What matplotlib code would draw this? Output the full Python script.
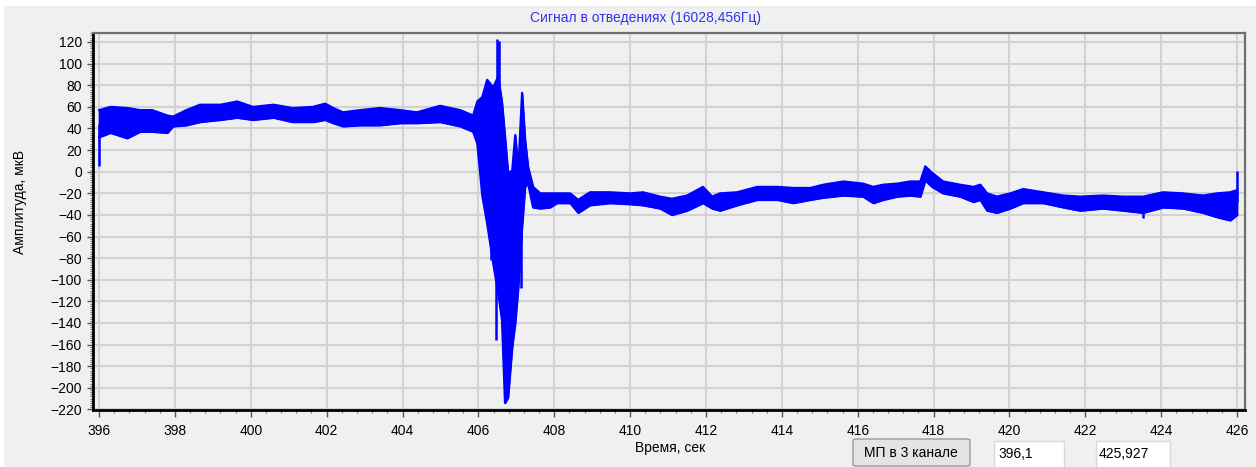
import numpy as np
import matplotlib.pyplot as plt
from matplotlib.patches import Rectangle, FancyBboxPatch
from matplotlib.ticker import MultipleLocator

plt.rcParams['font.family'] = ['Liberation Sans', 'DejaVu Sans']

# время, с
t = [396.0, 396.3, 396.74, 397.08, 397.4, 397.8, 397.95, 398.3, 398.66, 399.2,
     399.64, 400.06, 400.6, 401.1, 401.64, 401.96, 402.17, 402.43, 402.88, 403.4,
     403.94, 404.38, 404.99, 405.52, 405.86, 405.97, 406.1, 406.23, 406.39, 406.52,
     406.62, 406.7, 406.78, 406.89, 406.97, 407.05, 407.15, 407.23, 407.31, 407.44,
     407.63, 407.89, 408.07, 408.42, 408.63, 408.94, 409.47, 410.0, 410.34, 410.79,
     411.1, 411.5, 411.92, 412.16, 412.37, 412.82, 413.35, 413.88, 414.3, 414.75,
     415.09, 415.62, 416.14, 416.41, 416.67, 417.04, 417.38, 417.65, 417.78, 417.96,
     418.25, 418.7, 419.05, 419.23, 419.41, 419.67, 420.02, 420.36, 420.89, 421.42,
     421.86, 422.47, 423.0, 423.52, 424.05, 424.58, 425.1, 425.47, 425.82, 426.0]
# верхняя граница полосы сигнала, мкВ
hi = [57, 60, 59, 57, 57, 52, 51, 57, 62, 62,
      65, 60, 62, 59, 60, 63, 59, 55, 57, 59,
      57, 55, 61, 57, 52, 65, 69, 85, 78, 88,
      64, 32, -1, 1, 34, 1, 73, 29, 4, -14,
      -20, -20, -20, -20, -26, -19, -19, -20, -19, -23,
      -25, -22, -14, -23, -20, -19, -14, -14, -15, -15,
      -12, -9, -11, -14, -12, -11, -9, -9, 5, -1,
      -9, -12, -14, -12, -20, -23, -20, -16, -19, -22,
      -23, -22, -23, -23, -19, -20, -22, -20, -19, -17]
# нижняя граница полосы сигнала, мкВ
lo = [32, 36, 31, 37, 37, 36, 42, 43, 46, 48,
      50, 48, 50, 46, 46, 48, 45, 42, 43, 43,
      45, 45, 46, 42, 37, 26, -22, -48, -85, -112,
      -137, -214, -209, -162, -140, -107, -51, -14, -11, -33,
      -34, -33, -29, -29, -38, -31, -29, -30, -31, -34,
      -40, -36, -29, -34, -36, -31, -26, -26, -29, -26,
      -24, -22, -23, -29, -26, -23, -22, -23, -8, -14,
      -20, -23, -28, -26, -36, -38, -34, -29, -29, -33,
      -36, -34, -36, -38, -33, -34, -38, -42, -45, -40]

# отдельные выбросы
spike_t = [396.0, 406.33, 406.47, 406.5, 406.55, 407.12, 423.52, 426.0]
spike_v = [5, -82, -156, 123, 121, -108, -43, 1]

xticks = list(range(396, 427, 2))
yticks = list(range(-220, 121, 20))

W, H = 1256, 467
fig = plt.figure(figsize=(W / 100, H / 100), dpi=100, facecolor='#f0f0f0')
fig.patches.append(Rectangle((0, 1 - 6 / H), 1, 6 / H, transform=fig.transFigure,
                             facecolor='white', edgecolor='none'))
fig.patches.append(Rectangle((0, 0), 4 / W, 1, transform=fig.transFigure,
                             facecolor='white', edgecolor='none'))

ax = fig.add_axes([93 / W, 57 / H, 1152 / W, 377 / H])
ax.set_facecolor('#f0f0f0')

blue = '#0000ff'
ax.fill_between(t, lo, hi, color=blue, linewidth=1.2, edgecolor=blue, zorder=3)
ax.plot(t, hi, color=blue, linewidth=1.5, zorder=3)
ax.plot(t, lo, color=blue, linewidth=1.5, zorder=3)
mid = (np.array(hi) + np.array(lo)) / 2
base = np.interp(spike_t, t, mid)
ax.vlines(spike_t, base, spike_v, color=blue, linewidth=1.8, zorder=3)

ax.set_xlim(395.84, 426.21)
ax.set_ylim(-220.5, 128.3)
ax.set_xticks(xticks)
ax.set_yticks(yticks)
ax.xaxis.set_minor_locator(MultipleLocator(0.4))
ax.yaxis.set_minor_locator(MultipleLocator(2))
ax.grid(True, which='major', color='#d2d2d2', linewidth=1.5, zorder=0)
ax.set_axisbelow(True)

ax.tick_params(which='major', direction='out', length=4, width=1, color='#555555',
               labelsize=10, pad=4)
ax.tick_params(axis='x', which='major', length=5, pad=5)
ax.tick_params(which='minor', direction='out', length=2, width=0.8, color='#777777')

for side in ['left', 'bottom']:
    ax.spines[side].set_color('black')
    ax.spines[side].set_linewidth(2)
for side in ['top', 'right']:
    ax.spines[side].set_color('#6e6e6e')
    ax.spines[side].set_linewidth(1.6)


def px(x, y):
    return x / W, 1 - y / H


fig.text(*px(645, 18), 'Сигнал в отведениях (16028,456Гц)', color='#3333ee',
         fontsize=10, ha='center', va='center')
fig.text(*px(20, 202), 'Амплитуда, мкВ', rotation=90, fontsize=10,
         ha='center', va='center')
fig.text(*px(670, 448), 'Время, сек', fontsize=10, ha='center', va='center')

# кнопка и поля ввода
fig.patches.append(FancyBboxPatch(px(853, 466), 117 / W, 27 / H,
                                  boxstyle='round,pad=0,rounding_size=0.003',
                                  transform=fig.transFigure, facecolor='#e4e4e4',
                                  edgecolor='#9a9a9a', linewidth=1))
fig.text(*px(911, 453), 'МП в 3 канале', fontsize=10, ha='center', va='center')
fig.patches.append(Rectangle(px(994, 470), 70 / W, 29 / H, transform=fig.transFigure,
                             facecolor='white', edgecolor='#d8d8d8', linewidth=1))
fig.text(*px(998, 454), '396,1', fontsize=10, ha='left', va='center')
fig.patches.append(Rectangle(px(1096, 470), 74 / W, 29 / H, transform=fig.transFigure,
                             facecolor='white', edgecolor='#d8d8d8', linewidth=1))
fig.text(*px(1099, 454), '425,927', fontsize=10, ha='left', va='center')

fig.savefig('out.png', dpi=100, facecolor=fig.get_facecolor())
